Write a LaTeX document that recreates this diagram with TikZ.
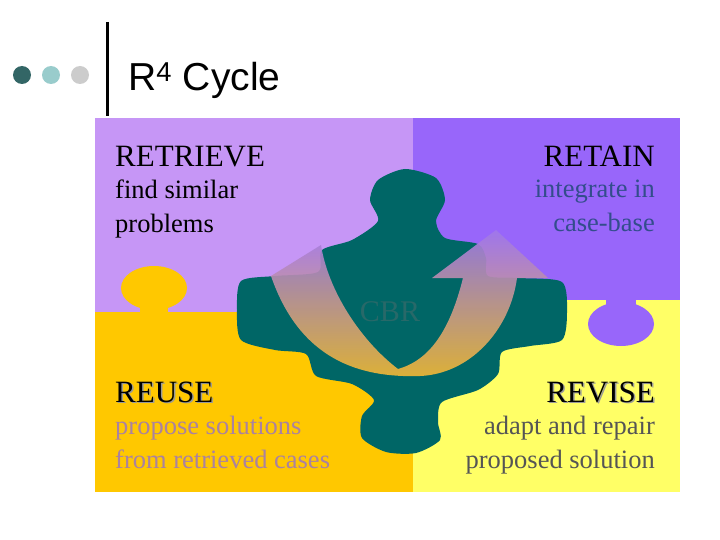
\documentclass[tikz,border=0pt]{standalone}
\usepackage{fontspec}
\setmainfont{Liberation Serif}
\newfontfamily\arial{Liberation Sans}
\begin{document}
\begin{tikzpicture}[x=1pt,y=-1pt,
  head/.style={anchor=base west,font=\fontsize{31}{32}\selectfont,inner sep=0},
  body/.style={align=left,anchor=north west,font=\fontsize{26.5}{34}\selectfont,inner sep=0},
  shadowtxt/.style={text=black!40}]
\useasboundingbox (0,0) rectangle (720,540);
\fill[white] (0,0) rectangle (720,540);
% bullets and title
\fill[color={rgb,255:red,51;green,102;blue,102}] (22,75) circle (9);
\fill[color={rgb,255:red,153;green,204;blue,204}] (51,75) circle (9);
\fill[color={rgb,255:red,204;green,204;blue,204}] (80,75) circle (9);
\draw[line width=3pt] (107,22) -- (107,116);
\node[anchor=base west,inner sep=0,font=\arial\fontsize{39}{39}\selectfont] (title) at (128,91) {R\textsuperscript{4} Cycle};
% quadrants
\fill[color={rgb,255:red,198;green,150;blue,246}] (95,118) rectangle (413,312);
\fill[color={rgb,255:red,152;green,102;blue,250}] (413,118) rectangle (680,300);
\fill[color={rgb,255:red,255;green,200;blue,0}] (95,312) rectangle (413,492);
\fill[color={rgb,255:red,255;green,255;blue,102}] (413,300) rectangle (680,492);
% knobs
\fill[color={rgb,255:red,255;green,200;blue,0}] (140,313) -- (140,295) -- (168,295) -- (168,313) -- cycle;
\fill[color={rgb,255:red,255;green,200;blue,0}] (154,288) ellipse (33 and 22);
\fill[color={rgb,255:red,152;green,102;blue,250}] (606,299) -- (606,318) -- (636,318) -- (636,299) -- cycle;
\fill[color={rgb,255:red,152;green,102;blue,250}] (621,324) ellipse (33 and 22);
% teal piece
\fill[color={rgb,255:red,0;green,102;blue,102}] plot[smooth cycle,tension=0.45] coordinates {
(405,169) (436,178) (445,200) (436,221) (445,238) (478,244) (486,258) (488,276) (520,278) (562,282) (567,312) (562,340) (530,346) (502,352) (498,374) (478,390) (442,402) (438,422) (440,440) (416,453) (386,452) (362,438) (362,416) (374,400) (352,384) (316,376) (306,354) (275,350) (241,340) (237,310) (241,281) (275,276) (318,272) (322,250) (352,240) (378,221) (370,200) (378,180)};
% arrow
\shade[top color={rgb,255:red,160;green,120;blue,235},middle color={rgb,255:red,215;green,160;blue,160},bottom color={rgb,255:red,245;green,185;blue,50},opacity=0.9]
 (271,276) .. controls (300,360) and (360,378) .. (420,376)
 .. controls (470,374) and (510,330) .. (517,278) -- (548,278) -- (496,230) -- (432,278) -- (463,278)
 .. controls (450,330) and (430,360) .. (398,369)
 .. controls (360,340) and (328,290) .. (321,245) -- cycle;
\node[inner sep=0,font=\fontsize{30}{30}\selectfont,text={rgb,255:red,40;green,105;blue,105}] (cbr) at (390,312) {CBR};
% texts
\node[head] (ret) at (115,167) {RETRIEVE};
\node[body] (retb) at (115,180) {find similar\\problems};
\node[head,anchor=base east] (rtn) at (655,167) {RETAIN};
\node[body,align=right,anchor=north east,text={rgb,255:red,51;green,77;blue,140}] (rtnb) at (655,180) {integrate in\\case-base};
\node[head,shadowtxt] at (116.5,403.5) {REUSE};
\node[head] (reu) at (115,402) {REUSE};
\node[body,text={rgb,255:red,170;green,130;blue,160}] (reub) at (115,416) {propose solutions\\from retrieved cases};
\node[head,anchor=base east,shadowtxt] at (656.5,403.5) {REVISE};
\node[head,anchor=base east] (rev) at (655,402) {REVISE};
\node[body,align=right,anchor=north east,text={rgb,255:red,85;green,85;blue,85}] (revb) at (655,416) {adapt and repair\\proposed solution};
\end{tikzpicture}
\end{document}
